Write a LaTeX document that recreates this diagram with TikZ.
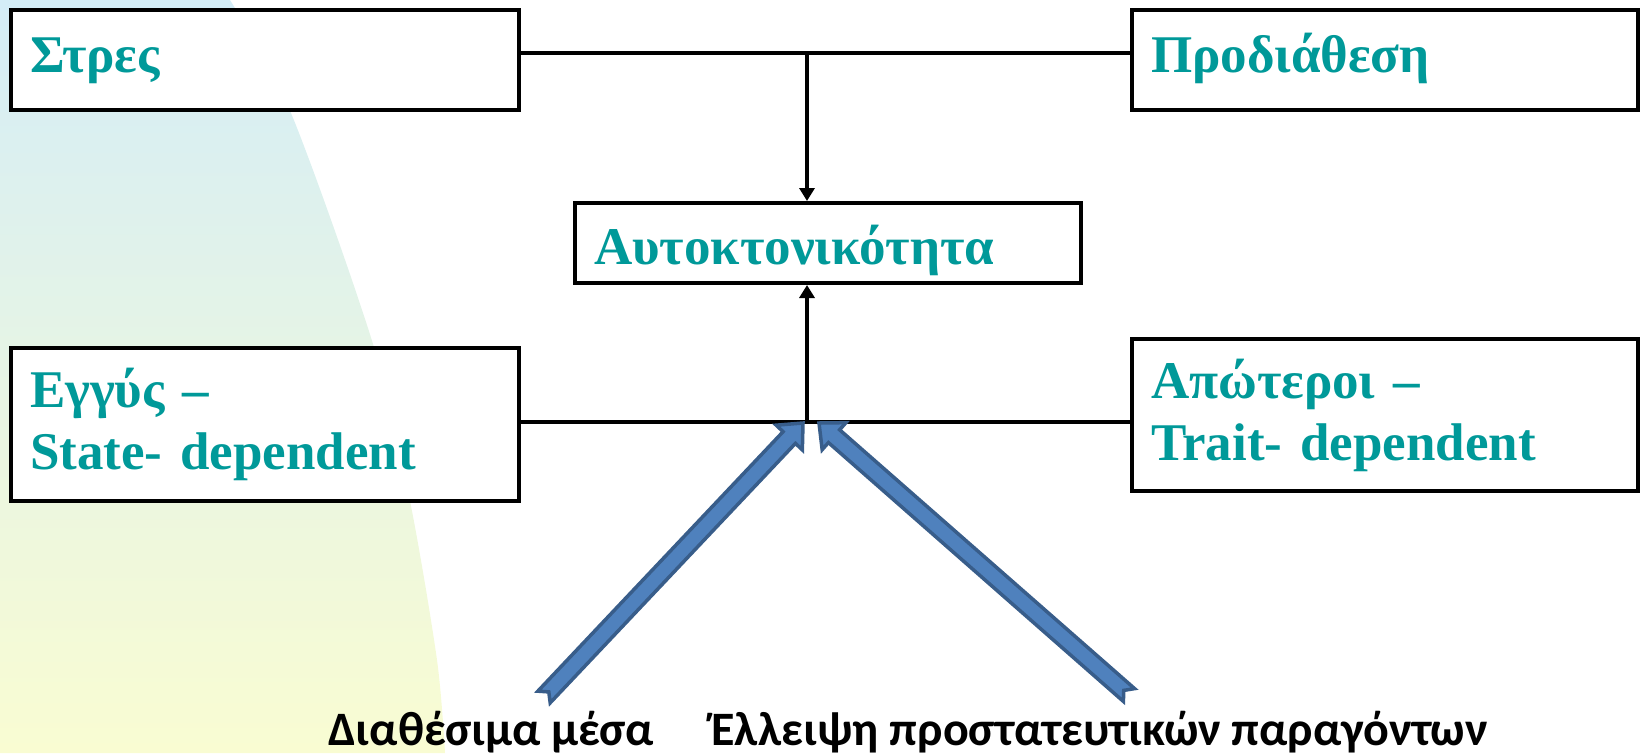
\documentclass[tikz,border=0pt]{standalone}
\usepackage{fontspec}
\setmainfont{Liberation Serif}
\newfontfamily\labelfont{Carlito}
\usetikzlibrary{arrows.meta,calc}

\definecolor{boxtext}{RGB}{0,153,153}
\definecolor{arrowfill}{RGB}{79,129,189}
\definecolor{arrowline}{RGB}{56,93,138}
\definecolor{bgtop}{RGB}{212,237,247}
\definecolor{bgbottom}{RGB}{249,252,210}

\tikzset{
  box/.style={draw=black, line width=4pt, fill=white, rectangle,
    inner xsep=19pt, inner ysep=0pt, align=left, text=boxtext,
    font=\fontsize{53}{62}\selectfont\bfseries},
  link/.style={draw=black, line width=4.5pt},
  linkarrow/.style={link, -{Triangle[length=13pt,width=15pt]}},
  caption/.style={font=\labelfont\fontsize{48}{54}\selectfont\bfseries,
    anchor=base west, inner sep=0pt, text=black},
  blockarrow/.style={fill=arrowfill, draw=arrowline, line width=3.5pt,
    line join=miter},
}

% wide arrow with a swallow tail: #1 = tail, #2 = tip
\newcommand\fatarrow[2]{%
  \coordinate (#1-hb) at ($(#2)!20pt!(#1)$);
  \path[blockarrow]
    ($(#1)!7pt!(#2)$)
    -- ($(#1)!8.5pt!90:(#2)$)
    -- ($(#1-hb)!8.5pt!90:(#2)$)
    -- ($(#1-hb)!18pt!90:(#2)$)
    -- (#2)
    -- ($(#1-hb)!18pt!-90:(#2)$)
    -- ($(#1-hb)!8.5pt!-90:(#2)$)
    -- ($(#1)!8.5pt!-90:(#2)$)
    -- cycle;
}

\begin{document}
\begin{tikzpicture}[x=1pt,y=-1pt]
  \useasboundingbox (0,0) rectangle (1644,753);

  % soft background band on the left
  \shade[top color=bgtop, bottom color=bgbottom]
    (0,0) -- plot[smooth] coordinates {(230,0) (291,113) (373,344) (410,501) (437,660) (445,753)}
    -- (0,753) -- cycle;

  % boxes
  \node[box, minimum width=508pt, minimum height=100pt, text width=470pt,
        text height=37pt, text depth=12pt] (stres) at (265,60) {Στρες};
  \node[box, minimum width=506pt, minimum height=100pt, text width=468pt,
        text height=37pt, text depth=12pt] (prod) at (1385,60) {Προδιάθεση};
  \node[box, minimum width=506pt, minimum height=80pt, text width=468pt,
        text height=47pt, text depth=4pt] (auto) at (828,243) {Αυτοκτονικότητα};
  \node[box, minimum width=508pt, minimum height=153pt, text width=470pt]
        (near) at (265,424.5) {Εγγύς –\\State- dependent};
  \node[box, minimum width=506pt, minimum height=152pt, text width=468pt]
        (far) at (1385,415) {Απώτεροι –\\Trait- dependent};

  % connectors
  \coordinate (topj) at (807,53);
  \coordinate (botj) at (807,422);
  \draw[link] (stres.east |- topj) -- (prod.west |- topj);
  \draw[linkarrow] (topj) -- (topj |- auto.north);
  \draw[link] (near.east |- botj) -- (far.west |- botj);
  \draw[linkarrow] (botj) -- (botj |- auto.south);

  % wide arrows from the bottom labels
  \coordinate (meansTail) at (544,697);
  \coordinate (meansTip) at (803,423);
  \coordinate (lackTail) at (1129,695);
  \coordinate (lackTip) at (819,423);
  \fatarrow{meansTail}{meansTip}
  \fatarrow{lackTail}{lackTip}

  % bottom labels
  \node[caption] (means) at (328,745) {Διαθέσιμα μέσα};
  \node[caption] (lack) at (711,745) {Έλλειψη προστατευτικών παραγόντων};
\end{tikzpicture}
\end{document}
